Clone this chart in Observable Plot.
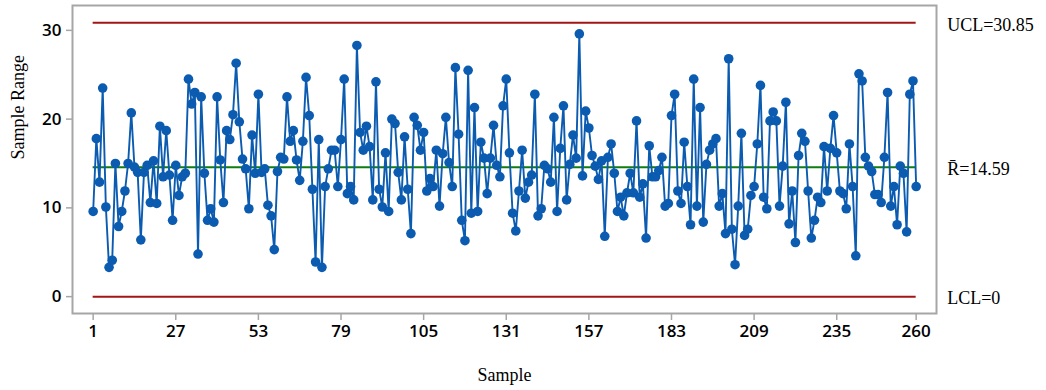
<!DOCTYPE html>
<html>
<head>
<meta charset="utf-8">
<script src="https://cdn.jsdelivr.net/npm/d3@7"></script>
<script src="https://cdn.jsdelivr.net/npm/@observablehq/plot@0.6"></script>
<style>
  html, body { margin: 0; padding: 0; background: #fff; }
  #chart { width: 1046px; height: 390px; }
</style>
</head>
<body>
<div id="chart"></div>
<script>
// Sample ranges (samples 1..260)
const ranges = [
  9.6, 17.8, 12.9, 23.5, 10.1, 3.3, 4.1, 15.0, 7.9, 9.6,
  11.9, 15.0, 20.7, 14.6, 14.0, 6.4, 14.0, 14.8, 10.6, 15.3,
  10.5, 19.2, 13.5, 18.7, 13.7, 8.6, 14.8, 11.4, 13.5, 13.9,
  24.5, 21.7, 23.0, 4.8, 22.5, 13.9, 8.6, 9.9, 8.4, 22.5,
  15.4, 10.6, 18.7, 17.7, 20.5, 26.3, 19.7, 15.5, 14.4, 9.9,
  18.2, 13.9, 22.8, 14.0, 14.4, 10.3, 9.1, 5.3, 14.1, 15.7,
  15.5, 22.5, 17.5, 18.7, 15.4, 13.1, 17.5, 24.7, 20.4, 12.1,
  3.9, 17.7, 3.3, 12.4, 14.4, 16.5, 16.5, 12.4, 17.7, 24.5,
  11.6, 12.4, 10.9, 28.3, 18.5, 16.5, 19.2, 16.9, 10.9, 24.2,
  12.1, 10.1, 16.2, 9.6, 20.0, 19.5, 14.0, 10.9, 18.0, 12.1,
  7.1, 20.2, 19.3, 16.5, 18.5, 11.9, 13.3, 12.4, 16.5, 10.2,
  16.1, 20.2, 15.1, 12.4, 25.8, 18.3, 8.6, 6.3, 25.5, 9.4,
  21.3, 9.6, 17.4, 15.6, 11.6, 15.6, 19.3, 14.8, 13.5, 21.5,
  24.5, 16.2, 9.4, 7.4, 11.9, 16.5, 11.1, 12.9, 13.7, 22.8,
  9.1, 9.9, 14.8, 14.4, 12.9, 20.2, 9.6, 16.7, 21.5, 10.9,
  14.9, 18.2, 15.6, 29.6, 13.6, 20.9, 19.0, 15.9, 14.7, 13.2,
  15.3, 6.8, 15.7, 17.2, 13.9, 9.6, 11.2, 9.1, 11.7, 13.9,
  11.7, 19.8, 11.2, 12.7, 6.6, 17.0, 13.5, 13.5, 14.2, 15.7,
  10.2, 10.5, 20.4, 22.8, 11.9, 10.5, 17.4, 12.4, 8.1, 24.5,
  10.2, 21.3, 8.4, 14.9, 16.5, 17.2, 17.8, 10.2, 11.6, 7.1,
  26.8, 7.6, 3.6, 10.2, 18.4, 6.9, 7.6, 11.4, 12.4, 17.2,
  23.8, 11.2, 9.9, 19.8, 20.8, 19.8, 10.2, 14.7, 21.9, 8.2,
  11.9, 6.1, 15.9, 18.4, 17.5, 11.9, 6.6, 8.6, 11.2, 10.6,
  16.9, 11.9, 16.7, 20.4, 16.2, 11.9, 11.6, 9.9, 17.2, 12.4,
  4.6, 25.1, 24.3, 15.7, 14.7, 14.1, 11.5, 11.5, 10.6, 15.7,
  23.0, 10.2, 12.4, 8.1, 14.7, 13.9, 7.3, 22.8, 24.3, 12.4
];
const xTicks = [1, 27, 53, 79, 105, 131, 157, 183, 209, 235, 260];
const yTicks = [0, 10, 20, 30];
const limitNames = ["UCL", "Rbar", "LCL"];
const limitValues = [30.85, 14.59, 0];
const limitLabels = ["UCL=30.85", "R\u0304=14.59", "LCL=0"];

const data = ranges.map((r, i) => ({sample: i + 1, range: r}));
const nFirst = 1, nLast = ranges.length;
const limits = limitNames.map((n, i) => ({name: n, value: limitValues[i], label: limitLabels[i]}));

const serif = "'Liberation Serif', 'Times New Roman', serif";

const chart = Plot.plot({
  width: 1046,
  height: 390,
  marginLeft: 72,
  marginRight: 110,
  marginTop: 5,
  marginBottom: 77,
  style: {fontFamily: "'Open Sans', sans-serif", fontSize: "17px", color: "#000", background: "#fff"},
  x: {domain: [-5.5, 266.4], label: null},
  y: {domain: [-1.9, 32.8], label: null},
  marks: [
    Plot.frame({stroke: "#a6a6a6", strokeWidth: 2}),
    Plot.axisY(yTicks, {tickSize: 6, tickPadding: 5, stroke: "#a6a6a6", strokeWidth: 1.5, fill: "#000", fontWeight: 600, label: null}),
    Plot.axisX(xTicks, {tickSize: 7, tickPadding: 4, stroke: "#a6a6a6", strokeWidth: 1.5, fill: "#000", fontWeight: 600, label: null}),
    Plot.ruleY(limits.filter(d => d.name !== "Rbar"), {y: "value", x1: nFirst, x2: nLast, stroke: "#a31515", strokeWidth: 2}),
    Plot.ruleY(limits.filter(d => d.name === "Rbar"), {y: "value", x1: nFirst, x2: nLast, stroke: "#0f7d0f", strokeWidth: 2}),
    Plot.line(data, {x: "sample", y: "range", stroke: "#0b5bb0", strokeWidth: 1.9}),
    Plot.dot(data, {x: "sample", y: "range", r: 4.8, fill: "#0b5bb0", stroke: "none"}),
    Plot.text(limits, {x: nLast, y: "value", text: "label", dx: 31, dy: 2, textAnchor: "start", fontFamily: serif, fontSize: 18}),
    Plot.text(["Sample Range"], {frameAnchor: "left", dx: -54, rotate: -90, fontFamily: serif, fontSize: 18}),
    Plot.text(["Sample"], {frameAnchor: "bottom", dy: 67, fontFamily: serif, fontSize: 18})
  ]
});
document.getElementById("chart").appendChild(chart);
</script>
</body>
</html>
